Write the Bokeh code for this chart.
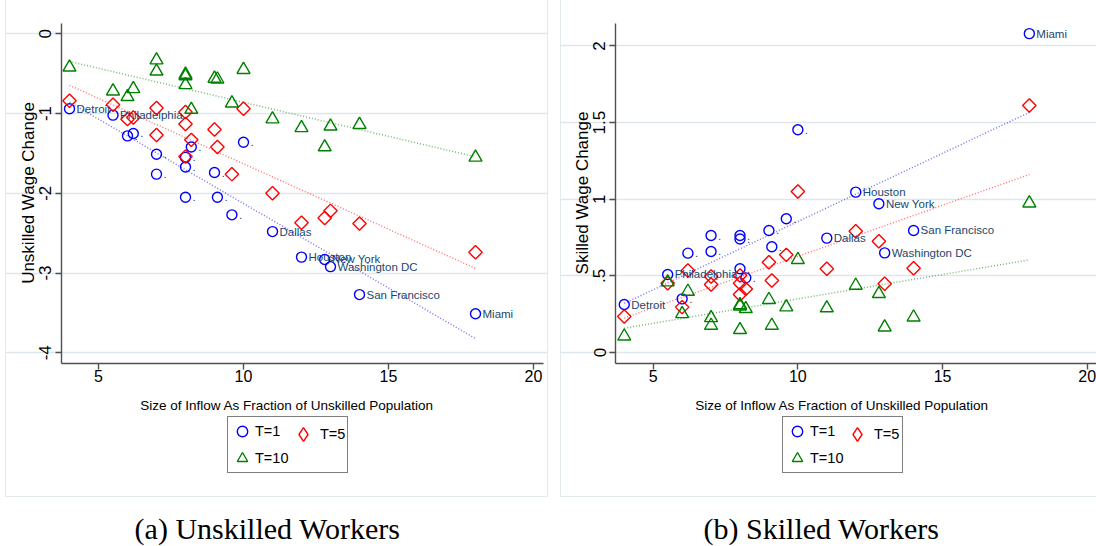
import numpy as np
from bokeh.plotting import figure
from bokeh.models import (Range1d, FixedTicker, CustomJSTickFormatter, Legend, LegendItem, Label)
from bokeh.layouts import row, column
from bokeh.embed import file_html
from bokeh.resources import INLINE
from bokeh.core.properties import value

# ---------------- data ----------------
inflow = [4.0, 5.5, 6.0, 6.2, 7.0, 7.0, 8.0, 8.0, 8.0, 8.2,
          9.0, 9.1, 9.6, 10.0, 11.0, 12.0, 12.8, 13.0, 14.0, 18.0]
city_labels = ["Detroit", "Philadelphia", ".", ".", ".", ".", ".", ".", ".", ".",
               ".", ".", ".", ".", "Dallas", "Houston", "New York", "Washington DC",
               "San Francisco", "Miami"]

unskilled_t1 = [-0.94, -1.02, -1.28, -1.25, -1.51, -1.76, -1.55, -1.67, -2.05, -1.42,
                -1.74, -2.05, -2.27, -1.36, -2.48, -2.80, -2.83, -2.92, -3.27, -3.51]
unskilled_t5 = [-0.84, -0.89, -1.07, -1.05, -0.93, -1.27, -0.98, -1.13, -1.54, -1.33,
                -1.20, -1.42, -1.76, -0.94, -2.00, -2.37, -2.31, -2.22, -2.38, -2.74]
unskilled_t10 = [-0.42, -0.72, -0.79, -0.69, -0.33, -0.47, -0.51, -0.64, -0.53, -0.95,
                 -0.56, -0.57, -0.87, -0.45, -1.07, -1.18, -1.42, -1.16, -1.14, -1.55]

skilled_t1 = [0.313, 0.509, 0.350, 0.648, 0.763, 0.659, 0.763, 0.740, 0.546, 0.487,
              0.796, 0.690, 0.872, 1.453, 0.746, 1.046, 0.970, 0.650, 0.796, 2.080]
skilled_t5 = [0.235, 0.452, 0.296, 0.535, 0.496, 0.444, 0.502, 0.452, 0.378, 0.415,
              0.589, 0.470, 0.637, 1.050, 0.546, 0.791, 0.726, 0.448, 0.550, 1.611]
skilled_t10 = [0.106, 0.459, 0.252, 0.398, 0.226, 0.176, 0.302, 0.148, 0.310, 0.285,
               0.344, 0.176, 0.296, 0.605, 0.290, 0.437, 0.383, 0.165, 0.230, 0.974]

series_labels = ["T=1", "T=5", "T=10"]
x_ticks = [5, 10, 15, 20]
unskilled_ticks = [-4, -3, -2, -1, 0]
skilled_ticks = [0, 0.5, 1, 1.5, 2]
x_title = "Size of Inflow As Fraction of Unskilled Population"
y_titles = ["Unskilled Wage Change", "Skilled Wage Change"]
captions = ["(a) Unskilled Workers", "(b) Skilled Workers"]

# ---------------- styles ----------------
REG = "'Liberation Sans', Arial, sans-serif"
SERIF = "'Liberation Serif', 'DejaVu Serif', serif"
COLORS = ["#0000ff", "#ff0000", "#008000"]
AXIS_COL = "#505050"
GRID_COL = "#dde6ea"
LABEL_COL = "#1a476f"
FRAME_COL = "#e3eaed"
PANEL_H = 497
FONTS = dict(city="11.5px", tick="16px", legend="14.5px", xtitle="13.5px")


def make_panel(ys, yticks, x0, xa, xb, px_per_x, y0px, px_per_y, left, width,
               ytitle, shadow, ytitle_x, legB_x):
    # ranges derived from the pixel geometry of the reference panel
    # (canvas spans page x [left, left+width], y [0, PANEL_H])
    def xv(page_x):
        return 5 + (page_x - x0) / px_per_x

    def yv(page_y):
        return (y0px - page_y) / px_per_y

    p = figure(width=width, height=PANEL_H,
               x_range=Range1d(xv(left), xv(left + width)),
               y_range=Range1d(yv(PANEL_H), yv(0)),
               output_backend="svg", toolbar_location=None,
               min_border_left=0, min_border_right=0,
               min_border_top=0, min_border_bottom=0,
               background_fill_alpha=0, border_fill_alpha=0,
               outline_line_color=None, styles={"box-shadow": shadow})

    xbounds = (xv(xa), xv(xb))
    ybounds = (yv(363), yv(23))

    r1 = p.scatter(inflow, ys[0], marker="circle", size=10, fill_alpha=0,
                   line_color=COLORS[0], line_width=1.4)
    p.scatter(inflow, ys[1], marker="square", angle=np.pi / 4, size=9.5,
              fill_alpha=0, line_color=COLORS[1], line_width=1.4)
    r10 = p.scatter(inflow, ys[2], marker="triangle", size=13, fill_alpha=0,
                    line_color=COLORS[2], line_width=1.4)
    # legend-only glyph for the diamond series (legend glyphs ignore marker angle)
    r5_leg = p.scatter(x=[float("nan")], y=[float("nan")], marker="diamond", size=12,
                       fill_alpha=0, line_color=COLORS[1], line_width=1.4)

    p.text(x=inflow, y=ys[0], text=city_labels, x_offset=7,
           text_baseline="middle", text_align="left",
           text_font=value(REG), text_font_size=FONTS["city"],
           text_color=LABEL_COL)

    xs = np.array([min(inflow), max(inflow)])
    for yvals, c in zip(ys, COLORS):
        coef = np.polyfit(inflow, yvals, 1)
        p.line(xs, np.polyval(coef, xs), line_color=c, line_alpha=0.55,
               line_width=1.5, line_dash="1 2")

    p.xgrid.visible = False
    p.ygrid.grid_line_color = GRID_COL
    p.ygrid.grid_line_width = 1.5
    p.ygrid.bounds = xbounds
    p.xaxis.ticker = FixedTicker(ticks=x_ticks)
    p.yaxis.ticker = FixedTicker(ticks=yticks)
    p.yaxis.formatter = CustomJSTickFormatter(
        code="return String(tick).replace(/^0\\./, '.').replace(/^-0\\./, '-.');")
    p.xaxis.fixed_location = ybounds[0]
    p.yaxis.fixed_location = xbounds[0]
    p.xaxis.bounds = xbounds
    p.yaxis.bounds = ybounds
    for ax in (p.xaxis[0], p.yaxis[0]):
        ax.axis_line_color = AXIS_COL
        ax.axis_line_width = 1.4
        ax.major_tick_line_color = AXIS_COL
        ax.major_tick_line_width = 1.4
        ax.major_tick_out = 6
        ax.major_tick_in = 0
        ax.minor_tick_line_color = None
        ax.major_label_text_color = "black"
    p.xaxis.major_label_text_font = REG
    p.xaxis.major_label_text_font_size = FONTS["tick"]
    p.xaxis.major_label_standoff = 0
    p.yaxis.major_label_text_font = REG
    p.yaxis.major_label_text_font_size = "17px"
    p.yaxis.major_label_orientation = "vertical"
    p.yaxis.major_label_standoff = 4

    # axis titles
    p.add_layout(Label(x=ytitle_x, y=PANEL_H - 192.5,
                       x_units="screen", y_units="screen", angle=np.pi / 2,
                       text=ytitle, text_align="center", text_baseline="alphabetic",
                       text_font=REG, text_font_size="17px", text_color="black"))
    p.add_layout(Label(x=281.5, y=PANEL_H - 405, x_units="screen", y_units="screen",
                       text=x_title, text_align="center", text_baseline="alphabetic",
                       text_font=REG, text_font_size=FONTS["xtitle"],
                       text_color="black"))

    common = dict(padding=1, spacing=1, label_height=20, margin=0,
                  label_text_font=REG, label_text_font_size=FONTS["legend"],
                  label_text_color="black", orientation="vertical")
    legA = Legend(items=[LegendItem(label=series_labels[0], renderers=[r1]),
                         LegendItem(label=series_labels[2], renderers=[r10])],
                  location=(222, PANEL_H - 473.3), label_width=91,
                  glyph_width=26, glyph_height=26, label_standoff=0,
                  border_line_color="black", border_line_width=1,
                  background_fill_color="white", background_fill_alpha=1, **common)
    legB = Legend(items=[LegendItem(label=series_labels[1], renderers=[r5_leg])],
                  location=(legB_x, PANEL_H - 452.3), label_width=20,
                  glyph_width=34, glyph_height=34, label_standoff=0,
                  border_line_alpha=0, background_fill_alpha=0, **common)
    p.add_layout(legA)
    p.add_layout(legB)
    return p


pA = make_panel([unskilled_t1, unskilled_t5, unskilled_t10], unskilled_ticks,
                98, 61, 543, 29.0, 33.3, 79.75, 5, 543, y_titles[0],
                f"inset 1px -1px 0 0 {FRAME_COL}, inset -1px 0 0 0 {FRAME_COL}",
                23.3, 280)
pA.margin = (0, 0, 0, 5)

pB = make_panel([skilled_t1, skilled_t5, skilled_t10], skilled_ticks,
                652.7, 615, 1096, 28.933, 352.0, 153.3, 560, 536, y_titles[1],
                f"inset 1px -1px 0 0 {FRAME_COL}", 22.3, 279)
pB.margin = (0, 0, 0, 12)

cap = figure(width=1096, height=49, x_range=Range1d(0, 1096), y_range=Range1d(49, 0),
             output_backend="svg", toolbar_location=None, min_border=0,
             x_axis_location=None, y_axis_location=None,
             outline_line_color=None, border_fill_alpha=0, background_fill_alpha=0)
cap.grid.visible = False
cap.text(x=[267, 821], y=[31, 31], text=captions, text_align="center",
         text_baseline="middle", text_font=value(SERIF), text_font_size="30px",
         text_color="black")

layout = column(row(pA, pB), cap)

open("out.html", "w").write(file_html(layout, INLINE))
